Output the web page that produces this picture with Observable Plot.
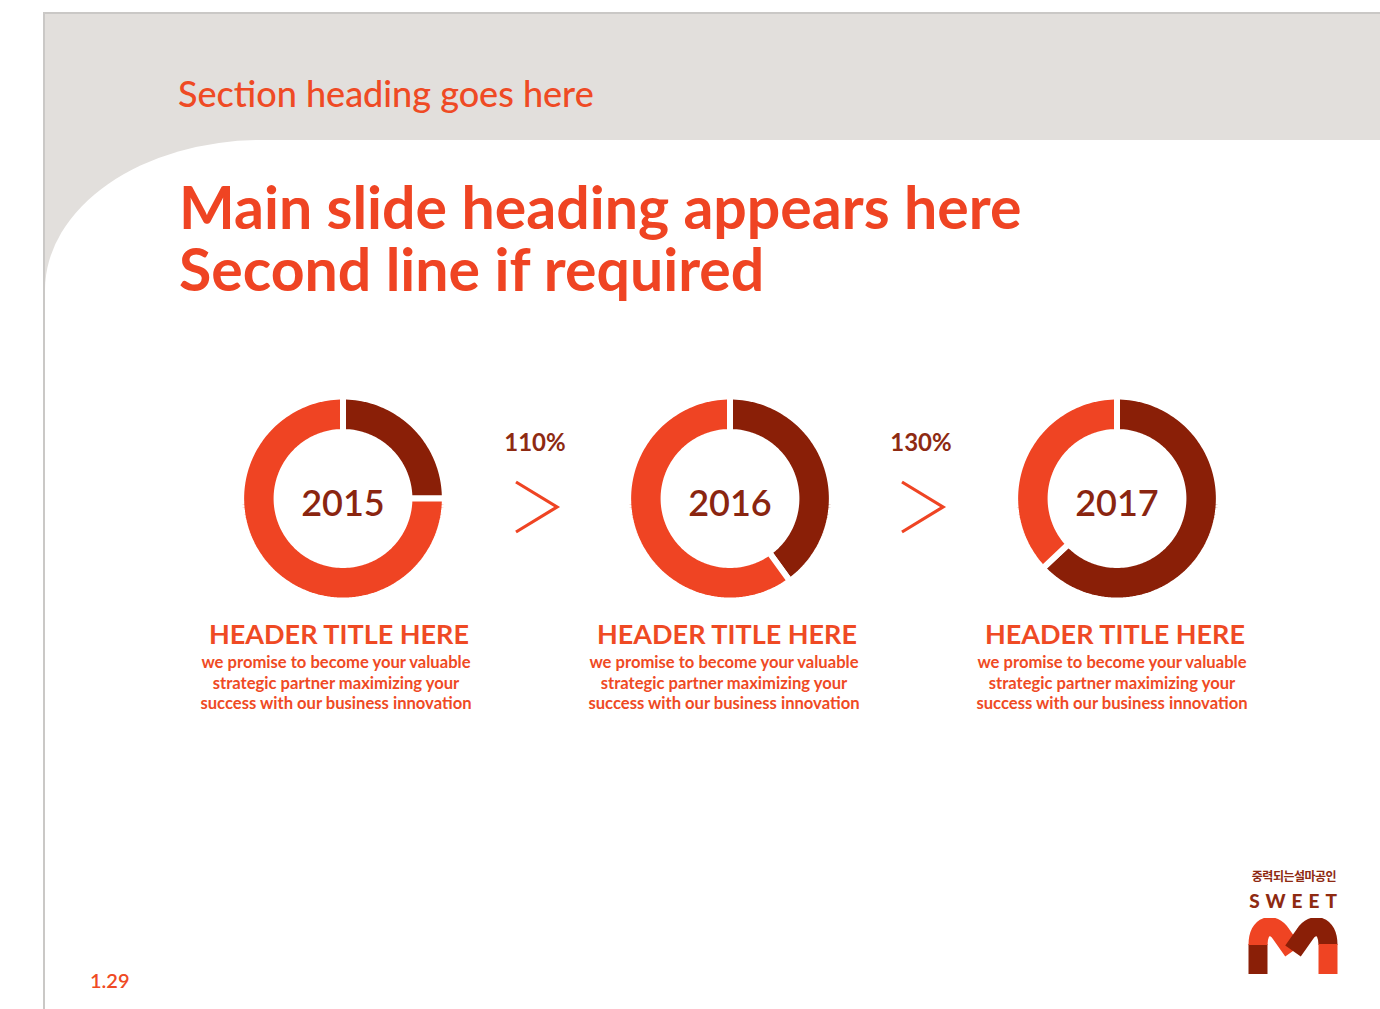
<!DOCTYPE html>
<html>
<head>
<meta charset="utf-8">
<script src="https://cdn.jsdelivr.net/npm/d3@7"></script>
<script src="https://cdn.jsdelivr.net/npm/@observablehq/plot@0.6"></script>
<style>
  html, body { margin: 0; padding: 0; }
  body { width: 1380px; height: 1009px; overflow: hidden; background: #fff; position: relative; font-family: Lato, "Open Sans", sans-serif; }
  .frame { position: absolute; left: 43px; top: 12px; width: 1400px; height: 1100px; background: #E2DFDC; border-left: 2px solid #CAC8C6; border-top: 2px solid #CAC8C6; }
  .sheet { position: absolute; left: 45px; top: 140px; width: 1400px; height: 1000px; background: #fff; border-top-left-radius: 216px 150px; }
  .abs { position: absolute; white-space: nowrap; }
  .section { left: 178px; top: 75px; font-size: 36px; line-height: 36px; font-weight: 500; color: #EF4A24; }
  .main { left: 179px; font-size: 59px; line-height: 59px; font-weight: 700; color: #EF4423; }
  .pct { width: 120px; text-align: center; font-size: 24px; line-height: 24px; font-weight: 700; color: #8E2A12; top: 430px; }
  .title { width: 360px; text-align: center; font-size: 27px; line-height: 27px; font-weight: 700; color: #EF4A24; top: 620px; }
  .body { width: 380px; text-align: center; font-size: 16.6px; line-height: 20.5px; font-weight: 700; color: #EF4A24; top: 652px; }
  .page { left: 90px; top: 970px; font-size: 20px; line-height: 20px; font-weight: 600; color: #EF4A24; }
  .kr { left: 1244px; top: 869px; width: 100px; text-align: center; font-family: "Noto Sans CJK KR"; font-size: 12px; line-height: 13px; font-weight: 700; color: #8E2A12; letter-spacing: -0.5px; }
  .sweet { left: 1246px; top: 891px; width: 100px; text-align: center; font-size: 19px; line-height: 20px; font-weight: 900; color: #8E2A12; letter-spacing: 6px; }
  #donuts { position: absolute; left: 148px; top: 383px; }
</style>
</head>
<body>
<div class="frame"></div>
<div class="sheet"></div>
<div id="texts"></div>
<div id="donuts"></div>
<script>
// ---- data ----
const years = [2015, 2016, 2017];
const darkPercent = [25, 40, 63];
const growthLabels = ["110%", "130%"];
const headerTitles = ["HEADER TITLE HERE", "HEADER TITLE HERE", "HEADER TITLE HERE"];
const bodyLines = ["we promise to become your valuable", "strategic partner maximizing your", "success with our business innovation"];
const sectionHeading = "Section heading goes here";
const mainHeading = ["Main slide heading appears here", "Second line if required"];
const pageNumber = "1.29";
const logoKorean = "중력되는설마공인";
const logoWord = "SWEET";

// ---- colours ----
const ORANGE = "#EF4423";
const DARK = "#8A1F07";

// ---- donut geometry (through Plot scales) ----
const R_OUT = 1.02, R_IN = 0.665;
const rows = [];
years.forEach((yr, i) => {
  const p = darkPercent[i];
  const segs = [{kind: "dark", a0: 0, a1: p}, {kind: "light", a0: p, a1: 100}];
  segs.forEach(s => {
    const id = yr + "-" + s.kind;
    const n = Math.max(4, Math.ceil((s.a1 - s.a0) * 2));
    for (let j = 0; j <= n; j++) {
      const t = (s.a0 + (s.a1 - s.a0) * j / n) / 100 * 2 * Math.PI;
      rows.push({year: yr, id, kind: s.kind, x: R_OUT * Math.sin(t), y: R_OUT * Math.cos(t)});
    }
    for (let j = n; j >= 0; j--) {
      const t = (s.a0 + (s.a1 - s.a0) * j / n) / 100 * 2 * Math.PI;
      rows.push({year: yr, id, kind: s.kind, x: R_IN * Math.sin(t), y: R_IN * Math.cos(t)});
    }
  });
});

const chart = Plot.plot({
  width: 1163,
  height: 230,
  margin: 0,
  style: {fontFamily: "Lato, sans-serif", overflow: "visible", background: "transparent"},
  fx: {domain: years, padding: 0, axis: null},
  x: {domain: [-1.9375, 1.9375], axis: null},
  y: {domain: [-1.15, 1.15], axis: null},
  color: {domain: ["dark", "light"], range: [DARK, ORANGE]},
  marks: [
    Plot.line(rows, {fx: "year", x: "x", y: "y", z: "id", fill: "kind", stroke: "white", strokeWidth: 6, strokeLinejoin: "miter", curve: "linear-closed"}),
    Plot.text(years, {fx: d => d, text: d => String(d), frameAnchor: "middle", fontSize: 36, fontWeight: 600, fill: "#8A2510", dy: 6})
  ]
});
document.getElementById("donuts").appendChild(chart);

// ---- surrounding slide text ----
const T = document.getElementById("texts");
function add(cls, html, style) {
  const d = document.createElement("div");
  d.className = "abs " + cls;
  d.innerHTML = html;
  if (style) Object.assign(d.style, style);
  T.appendChild(d);
  return d;
}
add("section", sectionHeading);
mainHeading.forEach((line, i) => add("main", line, {top: (177 + i * 62) + "px"}));
const centers = [339, 727, 1115];
headerTitles.forEach((t, i) => add("title", t, {left: (centers[i] - 180) + "px"}));
centers.forEach(c => add("body", bodyLines.join("<br>"), {left: (c - 193) + "px"}));
const gaps = [535, 921];
growthLabels.forEach((g, i) => {
  add("pct", g, {left: (gaps[i] - 60) + "px"});
  const svgNS = "http://www.w3.org/2000/svg";
  const s = document.createElementNS(svgNS, "svg");
  s.setAttribute("width", 50); s.setAttribute("height", 56);
  s.style.position = "absolute";
  s.style.left = (gaps[i] - 22) + "px"; s.style.top = "479px";
  const p = document.createElementNS(svgNS, "polyline");
  p.setAttribute("points", "3,3 44,28 3,53");
  p.setAttribute("fill", "none"); p.setAttribute("stroke", ORANGE); p.setAttribute("stroke-width", "3.2");
  s.appendChild(p);
  document.body.appendChild(s);
});
add("page", pageNumber);
add("kr", logoKorean);
add("sweet", logoWord);

// logo mark
(function () {
  const svgNS = "http://www.w3.org/2000/svg";
  const s = document.createElementNS(svgNS, "svg");
  s.setAttribute("width", 92); s.setAttribute("height", 56);
  s.style.position = "absolute"; s.style.left = "1247px"; s.style.top = "918px";
  const paths = [
    ["M11,56 L11,26", DARK],
    ["M11,27 C11,6 26,4 34,16 L46,33", ORANGE],
    ["M46,33 L58,16 C66,4 81,6 81,27", DARK],
    ["M81,26 L81,56", ORANGE]
  ];
  paths.forEach(([d, c]) => {
    const p = document.createElementNS(svgNS, "path");
    p.setAttribute("d", d); p.setAttribute("fill", "none");
    p.setAttribute("stroke", c); p.setAttribute("stroke-width", "19");
    p.setAttribute("stroke-linejoin", "round");
    s.appendChild(p);
  });
  document.body.appendChild(s);
})();
</script>
</body>
</html>
